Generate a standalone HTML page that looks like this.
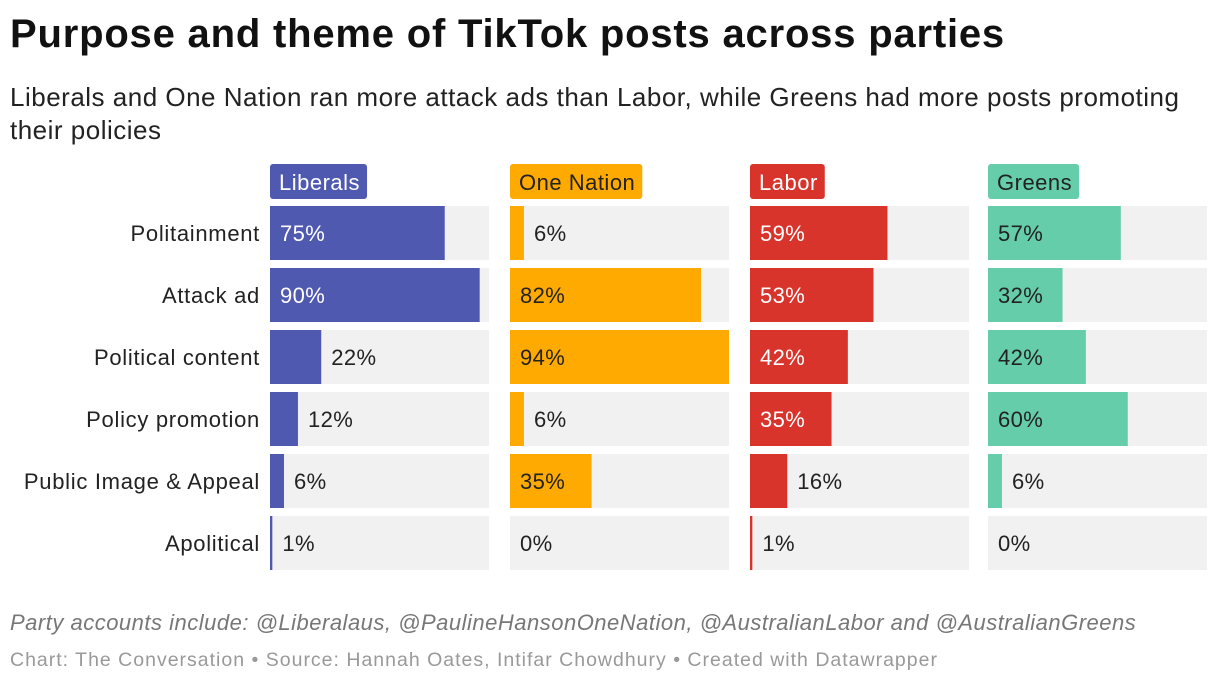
<!DOCTYPE html>
<html><head><meta charset="utf-8"><style>
body{margin:0;width:1220px;height:684px;background:#fff;font-family:"Liberation Sans",Arial,sans-serif;position:relative;overflow:hidden}
#title{position:absolute;left:10px;top:12px;font-size:40px;letter-spacing:0.8px;font-weight:bold;color:#111;margin:0}
#sub{position:absolute;left:10px;top:81px;font-size:26px;letter-spacing:0.5px;line-height:33px;color:#222;width:1210px;white-space:nowrap}
#foot1{position:absolute;left:10px;top:610px;font-size:22px;letter-spacing:0.5px;font-style:italic;color:#777}
#foot2{position:absolute;left:10px;top:649px;font-size:19.5px;letter-spacing:1px;color:#999}
</style></head><body>
<h1 id="title">Purpose and theme of TikTok posts across parties</h1>
<div id="sub">Liberals and One Nation ran more attack ads than Labor, while Greens had more posts promoting<br>their policies</div>
<svg id="chart" width="1220" height="600" style="position:absolute;left:0;top:0"></svg>
<div id="foot1">Party accounts include: @Liberalaus, @PaulineHansonOneNation, @AustralianLabor and @AustralianGreens</div>
<div id="foot2">Chart: The Conversation • Source: Hannah Oates, Intifar Chowdhury • Created with Datawrapper</div>
<script>
const categories=["Politainment","Attack ad","Political content","Policy promotion","Public Image & Appeal","Apolitical"];
const parties=["Liberals","One Nation","Labor","Greens"];
const liberals=[75,90,22,12,6,1];
const oneNation=[6,82,94,6,35,0];
const labor=[59,53,42,35,16,1];
const greens=[57,32,42,60,6,0];
const series=[liberals,oneNation,labor,greens];
const colors=["#5059b0","#ffaa00","#d8342c","#66cdaa"];
const inText=["#fff","#222","#fff","#222"];
const hdrText=["#fff","#222","#fff","#222"];
const NS="http://www.w3.org/2000/svg";
const svg=document.getElementById('chart');
const panelX=[270,510,750,988],panelW=219,maxV=94;
const rowY=i=>206+i*62,rowH=54;
const xs=v=>v/maxV*panelW;
function mk(t,a){const e=document.createElementNS(NS,t);for(const k in a)e.setAttribute(k,a[k]);svg.appendChild(e);return e;}
categories.forEach((c,i)=>{
  const t=mk('text',{x:260,y:rowY(i)+rowH/2+8,'text-anchor':'end','font-size':22,'letter-spacing':0.7,fill:'#222'});
  t.textContent=c;
  
  
});
parties.forEach((p,j)=>{
  const x0=panelX[j];
  const tmp=mk('text',{x:x0+9,y:190,'font-size':22,'letter-spacing':0.5,fill:hdrText[j]});tmp.textContent=p;
  const w=tmp.getBBox().width+16;
  const r=mk('rect',{x:x0,y:164,width:w,height:35,rx:3,fill:colors[j]});
  
  
  svg.appendChild(tmp);
  
  
  series[j].forEach((v,i)=>{
    const bg=mk('rect',{x:x0,y:rowY(i),width:panelW,height:rowH,fill:'#f1f1f1'});
    
    
    const bw=Math.max(xs(v),v>0?2:0);
    const b=mk('rect',{x:x0,y:rowY(i),width:bw,height:rowH,fill:colors[j]});
    
    
    const inside=bw>60;
    const l=mk('text',{x:inside?x0+10:x0+bw+10,y:rowY(i)+rowH/2+8,'font-size':22,'letter-spacing':0.4,fill:inside?inText[j]:'#222'});
    l.textContent=v+'%';
    
    
  });
});
</script>
</body></html>
